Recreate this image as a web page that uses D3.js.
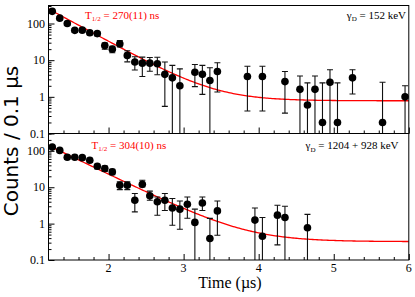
<!DOCTYPE html>
<html>
<head>
<meta charset="utf-8">
<script src="https://cdn.jsdelivr.net/npm/d3@7/dist/d3.min.js"></script>
<style>
  html, body { margin: 0; padding: 0; background: #fff; }
  svg { display: block; }
</style>
</head>
<body>
<svg id="chart" width="415" height="297"></svg>
<script>
// ---------- data ----------
const times1  = [1.25,1.35,1.45,1.55,1.65,1.75,1.85,1.95,2.05,2.15,2.25,2.35,2.45,2.55,2.65,2.75,2.85,2.95,3.15,3.25,3.35,3.45,3.85,4.05,4.35,4.55,4.65,4.75,4.85,4.95,5.05,5.25,5.65,5.95];
const counts1 = [215,140,100,65,66,56,53,25,20,28,13.5,8.9,8.3,8.3,8.0,4.1,3.3,2.0,4.7,4.1,2.8,4.9,3.6,3.6,2.6,1.6,0.6,1.6,0.2,2.5,0.2,3.3,0.2,1.0];
const lo1     = [200,128,90,57,58,49,46,20,16,23,9,5.4,3.6,5,4,0.55,0,0,1.9,1.17,0,1.35,0.41,0.41,0.36,0,0,0,0,0,0,1.2,0,0];
const hi1     = [230,152,110,73,74,63,60,29.5,24,34.5,18,12.4,12.1,11.8,12,8.9,7.2,5.8,7.6,7.2,6.2,8.5,6.8,6.8,4.9,3.7,2.4,3.7,2.4,5.5,2.4,5.5,2.5,2.0];

const times2  = [1.25,1.35,1.45,1.55,1.65,1.75,1.85,1.95,2.05,2.15,2.25,2.35,2.45,2.55,2.65,2.75,2.85,2.95,3.05,3.15,3.25,3.35,3.45,3.95,4.05,4.25,4.35,4.65];
const counts2 = [127,103,67,67,65,55,37.6,32.5,26.4,11.3,11.3,4.4,12.0,5.8,4.0,4.4,2.7,2.5,3.4,1.08,3.7,0.39,2.24,1.25,0.45,1.71,1.48,0.77];
const lo2     = [116,93,59,59,57,48,32,27,22,8.6,8.6,2.1,10.2,4.4,1.7,2.3,0.9,0.7,1.4,0,2.3,0,0.48,0,0,0.26,0,0];
const hi2     = [138,113,75,75,73,62,43,38,31,14,14,6.7,15.6,7.8,5.4,6.7,4.9,4.2,5.4,2.5,5.4,1.39,4.2,2.7,1.48,3.2,3.0,1.8];

// fit parameters: N(t) = A * 2^(-(t - t0)/T) + C
const fit1 = {A: 250, T: 0.270, C: 0.78, t0: 1.2};
const fit2 = {A: 140, T: 0.304, C: 0.32, t0: 1.2};

const xTicks = [2, 3, 4, 5, 6];
const yTicks = [0.1, 1, 10, 100];
const yTickLabels = ["0.1", "1", "10", "100"];

// ---------- layout ----------
const svg = d3.select("#chart");
const L = 48.5, R = 408.8;
const panels = [
  {top: 5.5, bottom: 133.5, yMax: 310, t: times1, c: counts1, lo: lo1, hi: hi1, fit: fit1,
   half: "270(11)", gamma: "152 keV", hx: 85, hy: 18.5, gx: 406, gy: 18.5},
  {top: 133.5, bottom: 260, yMax: 300, t: times2, c: counts2, lo: lo2, hi: hi2, fit: fit2,
   half: "304(10)", gamma: "1204 + 928 keV", hx: 91.5, hy: 148.5, gx: 398.5, gy: 149}
];

const x = d3.scaleLinear().domain([1.2, 6]).range([L, R]);

panels.forEach((p, i) => {
  const y = d3.scaleLog().domain([0.1, p.yMax]).range([p.bottom, p.top]);
  const g = svg.append("g");
  const clipId = "clip" + i;
  svg.append("clipPath").attr("id", clipId).append("rect")
    .attr("x", L).attr("y", p.top).attr("width", R - L).attr("height", p.bottom - p.top);

  // fit curve
  const fitFn = t => p.fit.A * Math.pow(2, -(t - p.fit.t0) / p.fit.T) + p.fit.C;
  const ts = d3.range(1.2, 6.0001, 0.02);
  g.append("path")
    .attr("clip-path", `url(#${clipId})`)
    .attr("d", d3.line().x(t => x(t)).y(t => y(fitFn(t)))(ts))
    .attr("fill", "none").attr("stroke", "#ff0000").attr("stroke-width", 1.3);

  // error bars
  const clampY = v => y(Math.max(v, 0.1));
  const eg = g.append("g").attr("clip-path", `url(#${clipId})`);
  p.t.forEach((t, k) => {
    const cx = x(t);
    const yl = clampY(p.lo[k]), yh = clampY(p.hi[k]);
    eg.append("line").attr("x1", cx).attr("x2", cx).attr("y1", yl).attr("y2", yh)
      .attr("stroke", "#111").attr("stroke-width", 1.1);
    eg.append("line").attr("x1", cx - 3).attr("x2", cx + 3).attr("y1", yh).attr("y2", yh)
      .attr("stroke", "#111").attr("stroke-width", 1.1);
    if (p.lo[k] > 0.1) {
      eg.append("line").attr("x1", cx - 3).attr("x2", cx + 3).attr("y1", yl).attr("y2", yl)
        .attr("stroke", "#111").attr("stroke-width", 1.1);
    }
  });
  // markers
  g.selectAll("circle.pt").data(p.t).join("circle")
    .attr("cx", d => x(d)).attr("cy", (d, k) => y(p.c[k])).attr("r", 3.8)
    .attr("fill", "#000");

  // y axis ticks (inward) with minor log ticks
  const yAxis = d3.axisRight(y).tickValues(yTicks).tickSize(6).tickFormat("");
  const yg = g.append("g").attr("transform", `translate(${L},0)`).call(yAxis);
  yg.select(".domain").remove();
  const minors = [];
  for (let dec = 0.1; dec < p.yMax; dec *= 10) {
    for (let m = 2; m <= 9; m++) { if (dec * m <= p.yMax) minors.push(dec * m); }
  }
  const yMinor = d3.axisRight(y).tickValues(minors).tickSize(3).tickFormat("");
  const ymg = g.append("g").attr("transform", `translate(${L},0)`).call(yMinor);
  ymg.select(".domain").remove();
  // y labels
  yTicks.forEach((v, k) => {
    g.append("text").attr("x", L - 3.5).attr("y", y(v)).attr("dy", "0.35em")
      .attr("text-anchor", "end").attr("font-family", "Liberation Serif")
      .attr("font-size", 12).text(yTickLabels[k]);
  });

  // x ticks on bottom edge (inward)
  const xAxis = d3.axisTop(x).tickValues(xTicks).tickSize(6).tickFormat("");
  const xg = g.append("g").attr("transform", `translate(0,${p.bottom})`).call(xAxis);
  xg.select(".domain").remove();
  const xMinorVals = d3.range(1.4, 6.0, 0.2).filter(v => Math.abs(v - Math.round(v)) > 0.01);
  const xMinor = d3.axisTop(x).tickValues(xMinorVals).tickSize(3).tickFormat("");
  const xmg = g.append("g").attr("transform", `translate(0,${p.bottom})`).call(xMinor);
  xmg.select(".domain").remove();

  // frame
  g.append("rect").attr("x", L).attr("y", p.top).attr("width", R - L).attr("height", p.bottom - p.top)
    .attr("fill", "none").attr("stroke", "#000").attr("stroke-width", 1);

  // annotations
  const ht = g.append("text").attr("x", p.hx).attr("y", p.hy)
    .attr("font-family", "Liberation Serif").attr("font-size", 11).attr("fill", "#ff0000");
  ht.append("tspan").text("T");
  ht.append("tspan").attr("font-size", 7).attr("dy", 2.5).text("1/2");
  ht.append("tspan").attr("dy", -2.5).text(" = " + p.half + " ns");

  const gt = g.append("text").attr("x", p.gx).attr("y", p.gy).attr("text-anchor", "end")
    .attr("font-family", "Liberation Serif").attr("font-size", 11).attr("fill", "#000");
  gt.append("tspan").text("γ");
  gt.append("tspan").attr("font-size", 7).attr("dy", 2.5).text("D");
  gt.append("tspan").attr("dy", -2.5).text(" = " + p.gamma);
});

svg.selectAll(".tick line").attr("stroke", "#000").attr("stroke-width", 1);

// x tick labels (bottom panel)
const xl = svg.append("g");
xTicks.forEach(v => {
  xl.append("text").attr("x", x(v)).attr("y", 272).attr("text-anchor", "middle")
    .attr("font-family", "Liberation Serif").attr("font-size", 12).text(String(v));
});

// axis titles
svg.append("text").attr("x", 230).attr("y", 288).attr("text-anchor", "middle")
  .attr("font-family", "Liberation Serif").attr("font-size", 16).text("Time (µs)");
svg.append("text").attr("transform", "translate(18,141) rotate(-90)").attr("text-anchor", "middle")
  .attr("font-family", "DejaVu Sans").attr("font-size", 20).text("Counts / 0.1 µs");
</script>
</body>
</html>
